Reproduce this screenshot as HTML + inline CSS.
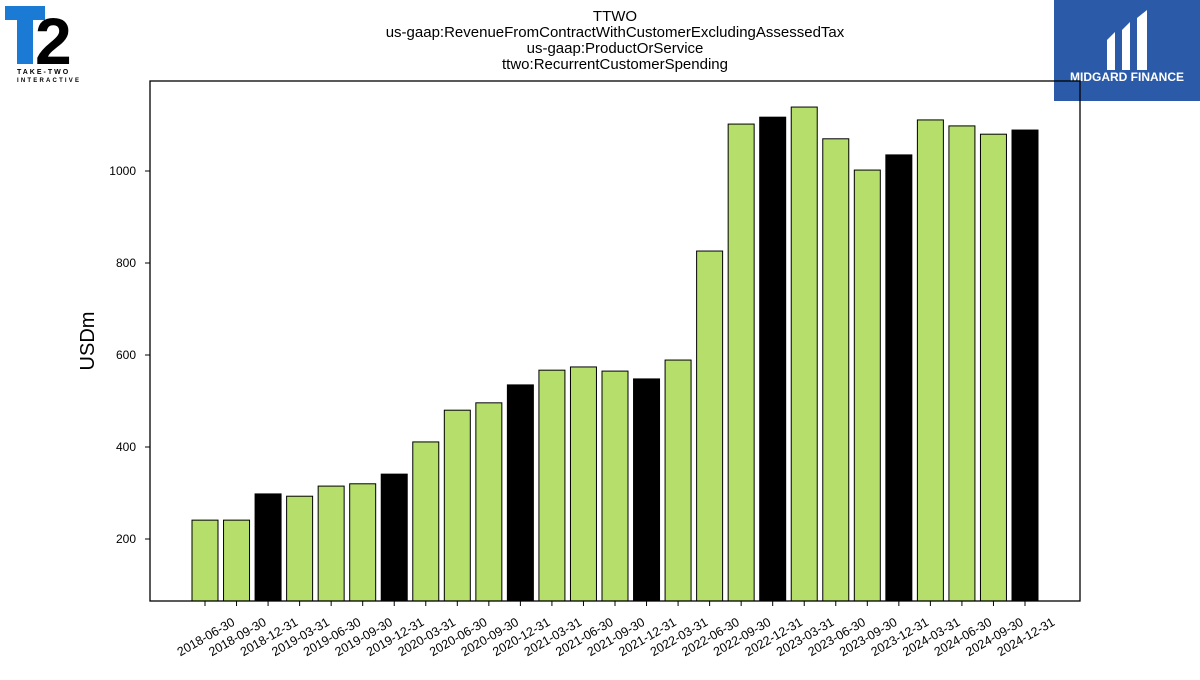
<!DOCTYPE html>
<html><head><meta charset="utf-8"><style>
body{margin:0;background:#fff;width:1200px;height:675px;overflow:hidden;font-family:"Liberation Sans","DejaVu Sans",sans-serif}
</style></head><body>
<svg id="c" width="1200" height="675" xmlns="http://www.w3.org/2000/svg">
<g>
<rect x="5" y="6" width="40" height="14" fill="#1a7ad4"/>
<rect x="17" y="6" width="16" height="58" fill="#1a7ad4"/>
<text x="35" y="64" font-size="66" font-weight="bold" fill="#000" font-family="Liberation Sans,sans-serif">2</text>
<text x="17" y="74" font-size="7" font-weight="bold" letter-spacing="2">TAKE-TWO</text>
<text x="17" y="82" font-size="6" font-weight="bold" letter-spacing="2.2">INTERACTIVE</text>
</g>
<g>
<rect x="1054" y="0" width="146" height="101" fill="#2a5aa8"/>
<path d="M1107 40 l8 -8 v38 l-8 0z M1122 30 l8 -8 v48 l-8 0z M1137 18 l10 -8 v60 l-10 0z" fill="#fff"/>
<text x="1127" y="81" font-size="12" font-weight="bold" fill="#fff" text-anchor="middle">MIDGARD FINANCE</text>
</g>
<g font-size="15" text-anchor="middle" fill="#000">
<text x="615" y="21">TTWO</text>
<text x="615" y="37">us-gaap:RevenueFromContractWithCustomerExcludingAssessedTax</text>
<text x="615" y="53">us-gaap:ProductOrService</text>
<text x="615" y="69">ttwo:RecurrentCustomerSpending</text>
</g>
<text x="94" y="341" font-size="20" text-anchor="middle" transform="rotate(-90 94 341)">USDm</text>
<g id="bars"></g><g id="axes"></g>
<rect x="150" y="81" width="930" height="520" fill="none" stroke="#000" stroke-width="1.3"/>
</svg>
<script>
const categories=["2018-06-30","2018-09-30","2018-12-31","2019-03-31","2019-06-30","2019-09-30","2019-12-31","2020-03-31","2020-06-30","2020-09-30","2020-12-31","2021-03-31","2021-06-30","2021-09-30","2021-12-31","2022-03-31","2022-06-30","2022-09-30","2022-12-31","2023-03-31","2023-06-30","2023-09-30","2023-12-31","2024-03-31","2024-06-30","2024-09-30","2024-12-31"];
const values=[241,241,298,293,315,320,341,411,480,496,535,567,574,565,548,589,826,1102,1117,1139,1070,1002,1035,1111,1098,1080,1089];
const yTicks=[200,400,600,800,1000];
const NS="http://www.w3.org/2000/svg";
const yMin=65.2,y0=601,k=0.46;
const y=v=>y0-(v-yMin)*k;
const x=i=>205+i*(820/26);
const bw=26;
const bars=document.getElementById('bars'),axes=document.getElementById('axes');
function mk(t,a,p){const e=document.createElementNS(NS,t);for(const n in a)e.setAttribute(n,a[n]);p.appendChild(e);return e;}
values.forEach((v,i)=>{
 const r=mk('rect',{x:x(i)-bw/2,y:y(v),width:bw,height:y0-y(v),fill:categories[i].endsWith('12-31')?'#000':'#b5de6b',stroke:'#000','stroke-width':1},bars);
 
 
 const t=mk('line',{x1:x(i),x2:x(i),y1:601,y2:606,stroke:'#000'},axes);
 
 
 const cx=x(i)+1,cy=637;
 const l=mk('text',{x:cx,y:cy+4,'font-size':12.5,'text-anchor':'middle',transform:`rotate(-30 ${cx} ${cy})`},axes);
 l.textContent=categories[i];
 
 
});
yTicks.forEach(v=>{
 const t=mk('line',{x1:145,x2:150,y1:y(v),y2:y(v),stroke:'#000'},axes);
 
 
 const l=mk('text',{x:136,y:y(v)+4,'font-size':12,'text-anchor':'end'},axes);
 l.textContent=v;
 
 
});
</script>
</body></html>
